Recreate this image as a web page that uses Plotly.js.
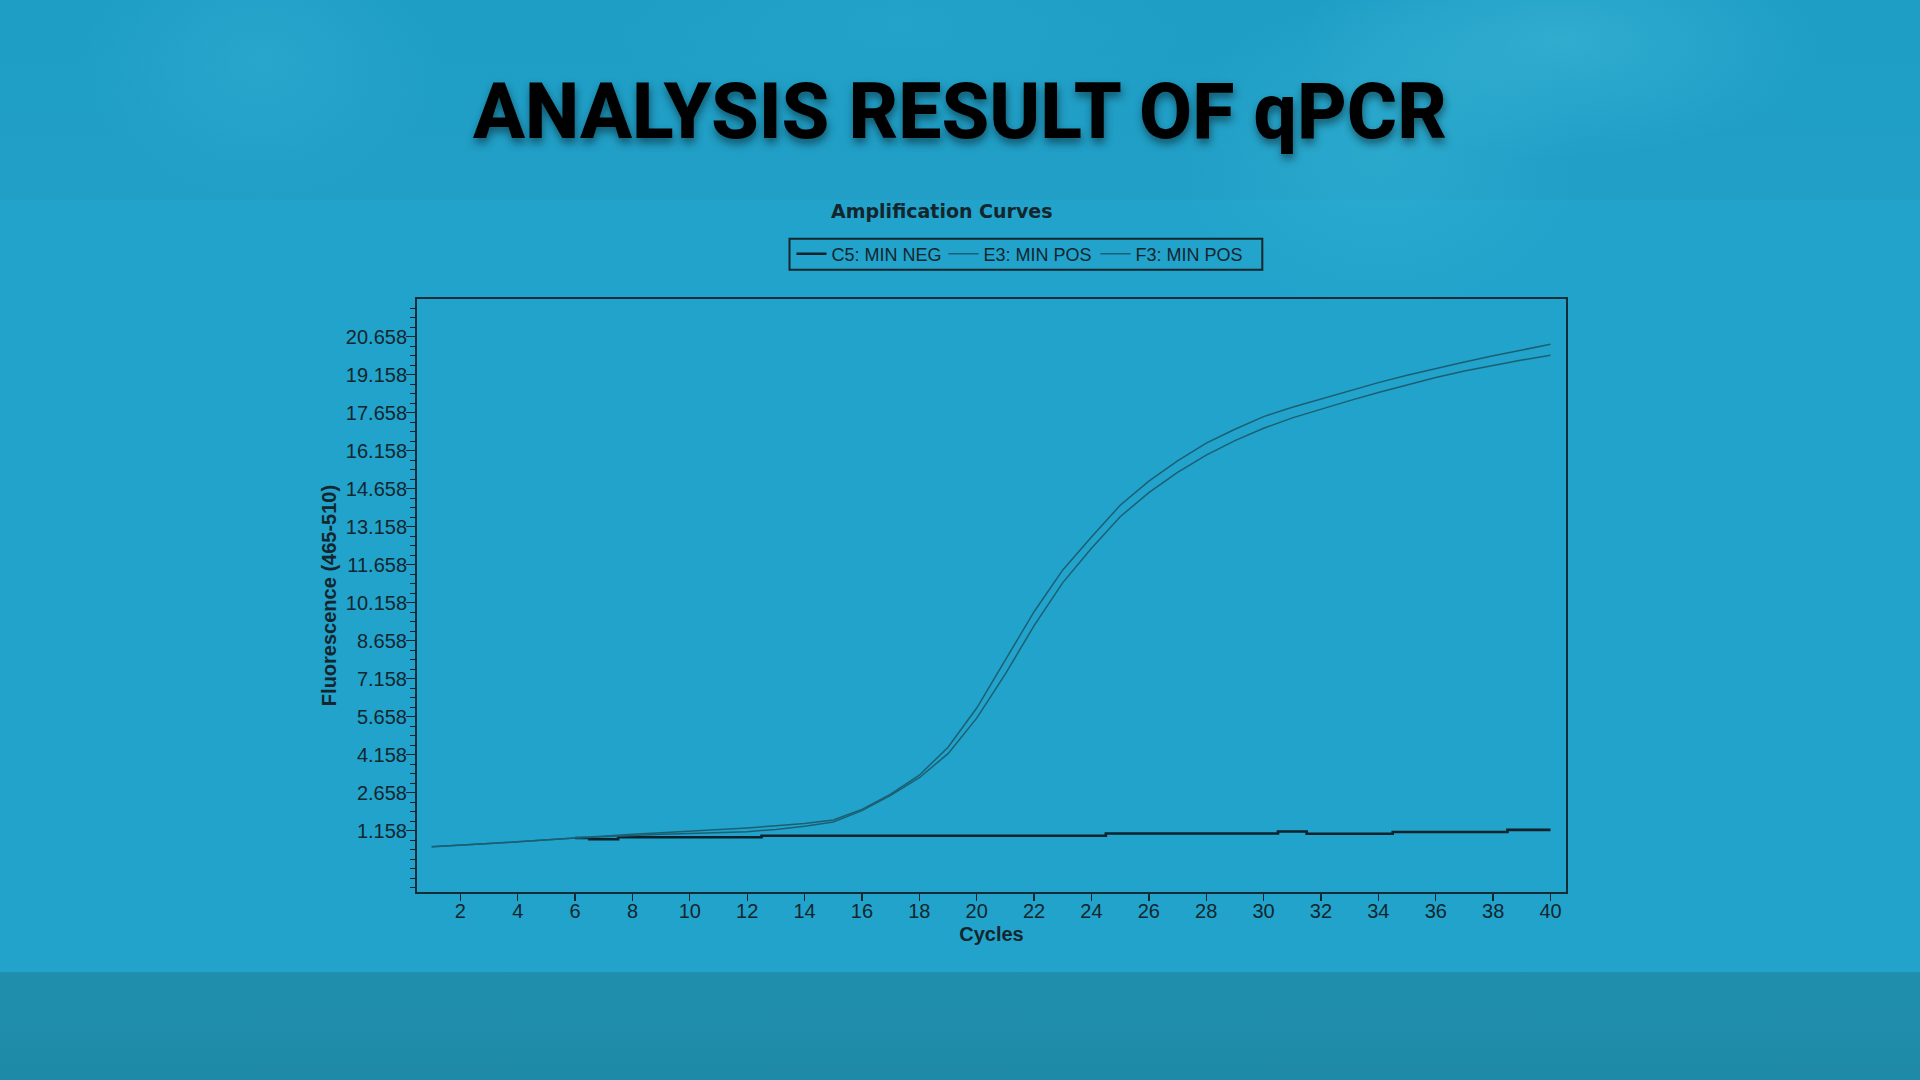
<!DOCTYPE html>
<html>
<head>
<meta charset="utf-8">
<script src="https://cdn.plot.ly/plotly-3.0.1.min.js"></script>
<style>
  html, body { margin: 0; padding: 0; width: 1920px; height: 1080px; overflow: hidden; }
  #chart {
    width: 1920px; height: 1080px;
    background:
      radial-gradient(ellipse 260px 120px at 1560px 40px, rgba(80,200,225,0.35), rgba(80,200,225,0) 100%),
      radial-gradient(ellipse 200px 160px at 1380px 150px, rgba(70,195,220,0.28), rgba(70,195,220,0) 100%),
      radial-gradient(ellipse 180px 140px at 260px 60px, rgba(70,190,220,0.25), rgba(70,190,220,0) 100%),
      radial-gradient(ellipse 300px 110px at 900px 20px, rgba(60,185,215,0.18), rgba(60,185,215,0) 100%),
      linear-gradient(to bottom,
        #1e9dc5 0px, #219fc7 200px,
        #21a3cb 200px, #21a3cb 972px,
        #1f8fad 972px, #1e8aa8 1080px);
  }
</style>
</head>
<body>
<div id="chart"></div>
<script>
// ---- data ----
const cycles = [1,2,3,4,5,6,7,8,9,10,11,12,13,14,15,16,17,18,19,20,21,22,23,24,25,26,27,28,29,30,31,32,33,34,35,36,37,38,39,40];

const negCycles = [6,7,8,9,10,11,12,13,14,15,16,17,18,19,20,21,22,23,24,25,26,27,28,29,30,31,32,33,34,35,36,37,38,39,40];
const c5MinNeg = [0.87,0.82,0.90,0.90,0.90,0.90,0.90,0.96,0.96,0.96,0.96,0.96,0.96,0.96,0.96,0.96,0.96,0.96,0.96,1.05,1.05,1.05,1.05,1.05,1.05,1.13,1.04,1.04,1.04,1.11,1.11,1.11,1.11,1.19,1.19];

const e3MinPos = [0.53,0.58,0.65,0.72,0.80,0.87,0.95,1.02,1.08,1.14,1.20,1.27,1.35,1.44,1.58,2.00,2.60,3.35,4.45,6.00,7.90,9.80,11.45,12.75,14.00,14.95,15.75,16.45,17.00,17.50,17.87,18.20,18.53,18.84,19.13,19.40,19.65,19.90,20.13,20.35];

const f3MinPos = [0.53,0.58,0.65,0.72,0.80,0.87,0.92,0.98,1.02,1.05,1.08,1.12,1.21,1.33,1.50,1.95,2.55,3.25,4.20,5.60,7.35,9.25,10.95,12.30,13.55,14.50,15.30,15.98,16.55,17.04,17.45,17.80,18.13,18.45,18.75,19.04,19.30,19.52,19.73,19.92];

const yTickVals = [1.158,2.658,4.158,5.658,7.158,8.658,10.158,11.658,13.158,14.658,16.158,17.658,19.158,20.658];
const xTickVals = [2,4,6,8,10,12,14,16,18,20,22,24,26,28,30,32,34,36,38,40];

const seriesNames = ['C5: MIN NEG', 'E3: MIN POS', 'F3: MIN POS'];
const pageTitle = 'ANALYSIS RESULT OF qPCR';
const chartTitle = 'Amplification Curves';
const xTitle = 'Cycles';
const yTitle = 'Fluorescence (465-510)';

// ---- styling ----
const dark = '#13262e';
const posColor = '#1d5f72';
const tickFont = {family: '"Liberation Sans", Arial, sans-serif', size: 20, color: dark};

const traces = [
  {x: negCycles, y: c5MinNeg, name: seriesNames[0], type: 'scatter', mode: 'lines',
   line: {color: '#0d222b', width: 2.6, shape: 'hvh'}},
  {x: cycles, y: e3MinPos, name: seriesNames[1], type: 'scatter', mode: 'lines',
   line: {color: posColor, width: 1.5}},
  {x: cycles, y: f3MinPos, name: seriesNames[2], type: 'scatter', mode: 'lines',
   line: {color: posColor, width: 1.5}}
];

const layout = {
  width: 1920, height: 1080,
  paper_bgcolor: 'rgba(0,0,0,0)', plot_bgcolor: 'rgba(0,0,0,0)',
  margin: {l: 417, r: 354, t: 299, b: 188, pad: 0},
  showlegend: true,
  title: {
    text: pageTitle, x: 0.5, xref: 'container', xanchor: 'center',
    y: 0.897, yref: 'container', yanchor: 'middle',
    font: {family: 'Roboto, "Liberation Sans", Arial, sans-serif', size: 77, weight: 800, color: '#000000',
           shadow: '1px 5px 8px rgba(0,0,0,0.45)'}
  },
  legend: {
    orientation: 'h', x: 0.3259, y: 1.1069, xanchor: 'left', yanchor: 'top',
    xref: 'paper', yref: 'paper',
    bgcolor: 'rgba(0,0,0,0)', borderwidth: 0,
    font: {family: '"Liberation Sans", Arial, sans-serif', size: 18, color: dark},
    entrywidth: 107, itemwidth: 30, traceorder: 'normal'
  },
  shapes: [
    {type: 'rect', xref: 'paper', yref: 'paper', x0: 0.3242, x1: 0.7357, y0: 1.0495, y1: 1.1018,
     line: {color: '#15262d', width: 2}, fillcolor: 'rgba(0,0,0,0)', layer: 'above'}
  ],
  xaxis: {
    range: [0.49, 40.54], tickmode: 'array', tickvals: xTickVals,
    showgrid: false, zeroline: false,
    showline: true, mirror: true, linecolor: '#152d36', linewidth: 2,
    ticks: 'outside', ticklen: 7, tickwidth: 1.3, tickcolor: dark,
    ticklabelstandoff: -7,
    tickfont: tickFont,
    title: {text: xTitle, standoff: 6,
            font: {family: '"Liberation Sans", Arial, sans-serif', size: 20, weight: 700, color: dark}}
  },
  yaxis: {
    range: [-1.26, 22.14], tickmode: 'array', tickvals: yTickVals, tickformat: '.3f',
    showgrid: false, zeroline: false,
    showline: true, mirror: true, linecolor: '#152d36', linewidth: 2,
    ticks: 'outside', ticklen: 9, tickwidth: 1.3, tickcolor: dark,
    ticklabelstandoff: -5,
    tickfont: tickFont,
    minor: {tickmode: 'linear', tick0: 1.158, dtick: 0.375, ticks: 'outside', ticklen: 5, tickwidth: 1, tickcolor: dark, showgrid: false},
    title: {text: yTitle, standoff: 4,
            font: {family: '"Liberation Sans", Arial, sans-serif', size: 20, weight: 700, color: dark}}
  },
  annotations: [
    {text: chartTitle, xref: 'paper', yref: 'paper', x: 0.4568, y: 1.149,
     xanchor: 'center', yanchor: 'middle', showarrow: false,
     font: {family: '"DejaVu Sans", Verdana, sans-serif', size: 19, weight: 700, color: '#15252c'}}
  ]
};

Plotly.newPlot('chart', traces, layout, {displayModeBar: false, staticPlot: true});
</script>
</body>
</html>
